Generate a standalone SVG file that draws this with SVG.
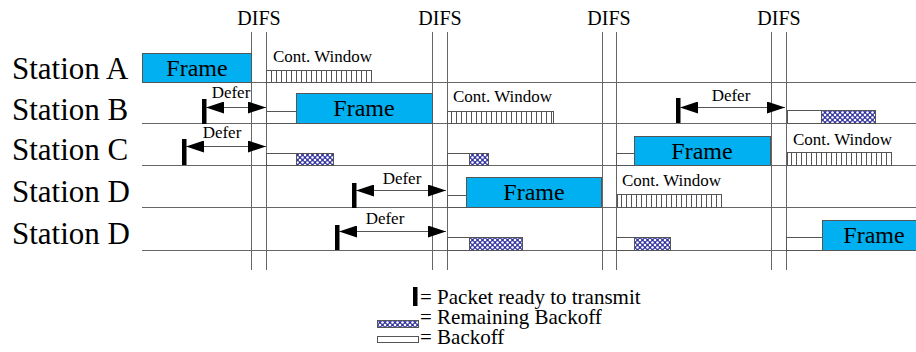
<svg xmlns="http://www.w3.org/2000/svg" width="916" height="352" viewBox="0 0 916 352" font-family="'Liberation Serif', 'DejaVu Serif', serif">
<defs>
<style>
text{font-family:'Liberation Serif','DejaVu Serif',serif;fill:#000}
.st{font-size:31px}
.difs{font-size:20px;text-anchor:middle}
.fr{font-size:24px;text-anchor:middle}
.sm{font-size:17px}
.df{font-size:17px;text-anchor:middle}
.lg{font-size:21px}
.grid{stroke:#666;stroke-width:1;fill:none}
.frame{fill:#00b0f0;stroke:#555;stroke-width:1}
.bo{fill:#fff;stroke:#555;stroke-width:1}
.rb{fill:url(#rbPat);stroke:#555;stroke-width:1}
.cw{fill:url(#cwPat);stroke:#555;stroke-width:1}
.bar{fill:#000}
.arr{stroke:#555;stroke-width:1;fill:none;marker-start:url(#ahL);marker-end:url(#ahR)}
</style>
<pattern id="cwPat" patternUnits="userSpaceOnUse" width="5" height="13" x="266" y="0">
<rect width="5" height="13" fill="#fff"/>
<line x1="0.5" y1="0" x2="0.5" y2="13" stroke="#555" stroke-width="1"/>
</pattern>
<pattern id="rbPat" patternUnits="userSpaceOnUse" width="5" height="5">
<rect width="5" height="5" fill="#3434a0"/>
<circle cx="0" cy="0" r="1.3" fill="#fff"/>
<circle cx="5" cy="0" r="1.3" fill="#fff"/>
<circle cx="0" cy="5" r="1.3" fill="#fff"/>
<circle cx="5" cy="5" r="1.3" fill="#fff"/>
<circle cx="2.5" cy="2.5" r="1.3" fill="#fff"/>
</pattern>
<marker id="ahR" markerUnits="userSpaceOnUse" markerWidth="18" markerHeight="12" refX="18" refY="6" orient="auto" viewBox="0 0 18 12">
<path d="M0,0 L18,6 L0,12 Z" fill="#000"/>
</marker>
<marker id="ahL" markerUnits="userSpaceOnUse" markerWidth="18" markerHeight="12" refX="0" refY="6" orient="auto" viewBox="0 0 18 12">
<path d="M18,0 L0,6 L18,12 Z" fill="#000"/>
</marker>
</defs>
<rect width="916" height="352" fill="#fff"/>

<g id="grid">
<line class="grid" x1="142" y1="82.5" x2="916" y2="82.5"/>
<line class="grid" x1="142" y1="123.5" x2="916" y2="123.5"/>
<line class="grid" x1="142" y1="165.5" x2="916" y2="165.5"/>
<line class="grid" x1="142" y1="207.5" x2="916" y2="207.5"/>
<line class="grid" x1="142" y1="250.5" x2="916" y2="250.5"/>
<line class="grid" x1="251.5" y1="32" x2="251.5" y2="270"/>
<line class="grid" x1="266.5" y1="32" x2="266.5" y2="270"/>
<line class="grid" x1="432.5" y1="32" x2="432.5" y2="270"/>
<line class="grid" x1="447.5" y1="32" x2="447.5" y2="270"/>
<line class="grid" x1="602.5" y1="32" x2="602.5" y2="270"/>
<line class="grid" x1="616.5" y1="32" x2="616.5" y2="270"/>
<line class="grid" x1="771.5" y1="32" x2="771.5" y2="270"/>
<line class="grid" x1="786.5" y1="32" x2="786.5" y2="270"/>
<text class="difs" x="259" y="25">DIFS</text>
<text class="difs" x="440" y="25">DIFS</text>
<text class="difs" x="609" y="25">DIFS</text>
<text class="difs" x="779" y="25">DIFS</text>
</g>

<g id="labels">
<text class="st" x="12" y="79">Station A</text>
<text class="st" x="12" y="120">Station B</text>
<text class="st" x="12" y="160">Station C</text>
<text class="st" x="12" y="202">Station D</text>
<text class="st" x="12" y="244">Station D</text>
</g>

<g id="stationA">
<rect class="frame" x="142.5" y="53.5" width="109" height="29"/>
<text class="fr" x="197" y="76">Frame</text>
<rect class="cw" x="266.5" y="70.5" width="105" height="12"/>
<text class="sm" x="273" y="62">Cont. Window</text>
</g>

<g id="stationB">
<rect class="bo" x="266.5" y="111.5" width="30" height="12"/>
<rect class="frame" x="296.5" y="93.5" width="136" height="30"/>
<text class="fr" x="364" y="116">Frame</text>
<rect class="cw" x="447.5" y="111.5" width="106" height="12"/>
<text class="sm" x="453" y="102">Cont. Window</text>
<rect class="bo" x="787.5" y="110.5" width="34" height="13"/>
<rect class="rb" x="821.5" y="110.5" width="54" height="13"/>
</g>

<g id="stationC">
<rect class="bo" x="266.5" y="153.5" width="30" height="12"/>
<rect class="rb" x="296.5" y="153.5" width="37" height="12"/>
<rect class="bo" x="447.5" y="153.5" width="22" height="12"/>
<rect class="rb" x="469.5" y="153.5" width="19" height="12"/>
<rect class="bo" x="616.5" y="153.5" width="18" height="12"/>
<rect class="frame" x="634.5" y="136.5" width="136" height="29"/>
<text class="fr" x="702" y="159">Frame</text>
<rect class="cw" x="787.5" y="152.5" width="104" height="13"/>
<text class="sm" x="793" y="145">Cont. Window</text>
</g>

<g id="stationD1">
<rect class="bo" x="447.5" y="195.5" width="19" height="12"/>
<rect class="frame" x="466.5" y="177.5" width="135" height="30"/>
<text class="fr" x="534" y="200">Frame</text>
<rect class="cw" x="617.5" y="194.5" width="104" height="13"/>
<text class="sm" x="622" y="186">Cont. Window</text>
</g>

<g id="stationD2">
<rect class="bo" x="447.5" y="237.5" width="22" height="13"/>
<rect class="rb" x="469.5" y="237.5" width="53" height="13"/>
<rect class="bo" x="616.5" y="237.5" width="18" height="13"/>
<rect class="rb" x="634.5" y="237.5" width="36" height="13"/>
<rect class="bo" x="786.5" y="237.5" width="36" height="13"/>
<rect class="frame" x="822.5" y="220.5" width="100" height="30"/>
<text class="fr" x="874" y="243">Frame</text>
</g>

<g id="connectors">
<rect class="bar" x="202" y="99" width="4.5" height="25"/>
<line class="arr" x1="206" y1="107.5" x2="266" y2="107.5"/>
<text class="df" x="231" y="98">Defer</text>

<rect class="bar" x="182" y="139" width="4.5" height="26"/>
<line class="arr" x1="186" y1="146.5" x2="266" y2="146.5"/>
<text class="df" x="222" y="138">Defer</text>

<rect class="bar" x="352" y="183" width="4.5" height="25"/>
<line class="arr" x1="356" y1="190.5" x2="446" y2="190.5"/>
<text class="df" x="402" y="184">Defer</text>

<rect class="bar" x="335" y="225" width="4.5" height="25"/>
<line class="arr" x1="339" y1="231.5" x2="446" y2="231.5"/>
<text class="df" x="385" y="224">Defer</text>

<rect class="bar" x="676" y="98" width="4.5" height="25"/>
<line class="arr" x1="680" y1="107.5" x2="785" y2="107.5"/>
<text class="df" x="731" y="101">Defer</text>
</g>

<g id="legend">
<rect class="bar" x="413" y="287" width="4.5" height="19"/>
<text class="lg" x="420" y="304">= Packet ready to transmit</text>
<rect class="rb" x="377.5" y="320.5" width="41" height="7"/>
<text class="lg" x="420" y="324">= Remaining Backoff</text>
<rect class="bo" x="377.5" y="336.5" width="41" height="6"/>
<text class="lg" x="420" y="344">= Backoff</text>
</g>
</svg>
